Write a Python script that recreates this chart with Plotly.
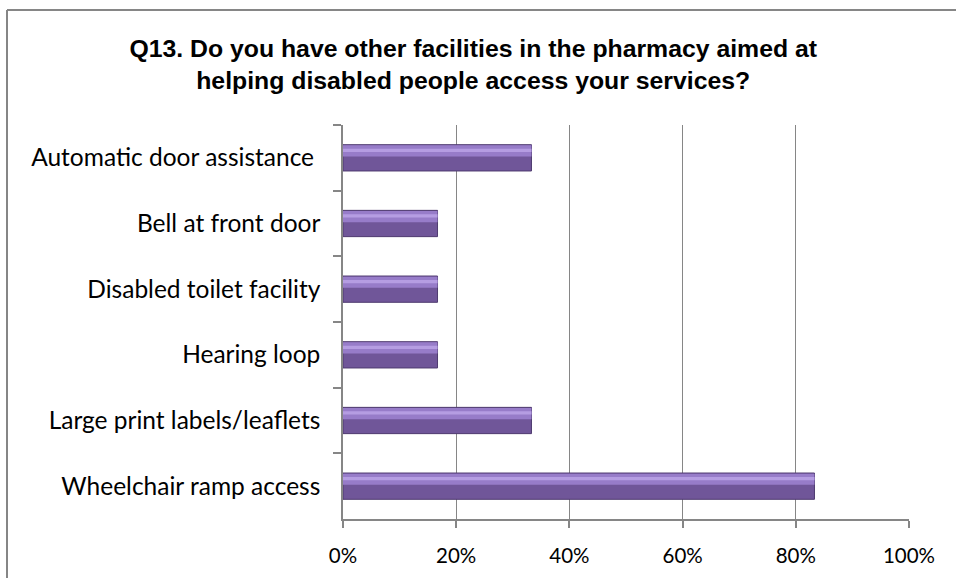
import plotly.graph_objects as go

# Survey responses: share of pharmacies offering each facility (%)
categories = [
    "Automatic door assistance\u00a0",
    "Bell at front door",
    "Disabled toilet facility",
    "Hearing loop",
    "Large print labels/leaflets",
    "Wheelchair ramp access",
]
values = [33.3, 16.7, 16.7, 16.7, 33.3, 83.3]
x_ticks = [0, 20, 40, 60, 80, 100]
x_tick_labels = ["0%", "20%", "40%", "60%", "80%", "100%"]

title_text = ("<b>Q13. Do you have other facilities in the pharmacy aimed at<br>"
              "helping disabled people access your services?</b>")

W, H = 956, 578
L, R, T, B = 343, 47, 125, 59
grey = "#868686"

fig = go.Figure()

# base bar (darker lower body)
fig.add_trace(go.Bar(
    x=values, y=categories, orientation="h", width=0.4,
    marker=dict(color="#705699", line=dict(color="#4f3b70", width=1)),
    hoverinfo="x+y", showlegend=False,
))
# lighter upper band
fig.add_trace(go.Bar(
    x=values, y=categories, orientation="h", width=0.17, offset=-0.19,
    marker=dict(color="#977cc9", line=dict(width=0)),
    hoverinfo="skip", showlegend=False,
))
# thin highlight stripe
fig.add_trace(go.Bar(
    x=values, y=categories, orientation="h", width=0.05, offset=-0.14,
    marker=dict(color="#b59de2", line=dict(width=0)),
    hoverinfo="skip", showlegend=False,
))

pw = W - L - R
ph = H - T - B
fx0 = (7 - L) / pw
fy1 = (H - B - 10) / ph

fig.update_layout(
    width=W, height=H,
    margin=dict(l=L, r=R, t=T, b=B),
    paper_bgcolor="white", plot_bgcolor="white",
    barmode="overlay",
    title=dict(
        text=title_text, x=0.495, xanchor="center",
        y=1 - 57 / H, yanchor="middle", yref="container",
        font=dict(family="Liberation Sans, Arial, sans-serif", size=24.8, color="black"),
    ),
    font=dict(family="Lato, Open Sans, sans-serif", size=20, color="black"),
    xaxis=dict(
        range=[0, 100], tickvals=x_ticks, ticktext=x_tick_labels,
        tickfont=dict(size=20.5),
        showgrid=True, gridcolor=grey, gridwidth=1,
        showline=True, linecolor=grey, linewidth=1.5,
        ticks="outside", ticklen=7, tickcolor=grey, tickwidth=1.5,
        ticklabelstandoff=11, zeroline=False, fixedrange=True,
    ),
    yaxis=dict(
        autorange="reversed",
        tickfont=dict(size=24.5),
        showline=True, linecolor=grey, linewidth=1.5,
        ticks="outside", ticklen=8, tickcolor=grey, tickwidth=1.5,
        tickson="boundaries", ticklabelstandoff=16,
        showgrid=False, fixedrange=True,
    ),
    shapes=[
        # outer chart frame: top and left edges (the rest runs off the page)
        dict(type="line", xref="paper", yref="paper",
             x0=fx0, x1=(W - L) / pw, y0=fy1, y1=fy1,
             line=dict(color=grey, width=2), layer="below"),
        dict(type="line", xref="paper", yref="paper",
             x0=fx0, x1=fx0, y0=-B / ph, y1=fy1,
             line=dict(color=grey, width=2), layer="below"),
    ],
)

# keep the page itself from scrolling
page_js = ("document.documentElement.style.overflow='hidden';"
           "document.body.style.overflow='hidden';"
           "document.body.style.margin='0';")
fig.write_html("out.html", config={"displayModeBar": False}, post_script=page_js)
